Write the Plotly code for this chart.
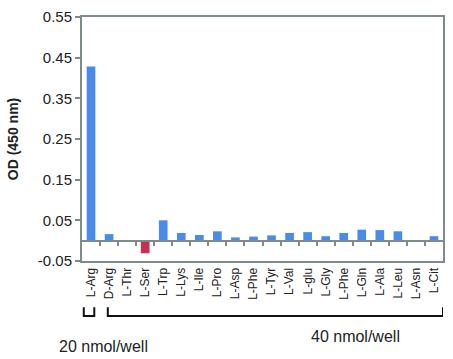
import plotly.graph_objects as go

categories = ["L-Arg", "D-Arg", "L-Thr", "L-Ser", "L-Trp", "L-Lys", "L-Ile", "L-Pro",
              "L-Asp", "L-Phe", "L-Tyr", "L-Val", "L-glu", "L-Gly", "L-Phe", "L-Gln",
              "L-Ala", "L-Leu", "L-Asn", "L-Cit"]
od_values = [0.428, 0.016, 0.0, -0.031, 0.050, 0.019, 0.014, 0.023, 0.008, 0.010,
             0.013, 0.019, 0.021, 0.011, 0.019, 0.027, 0.026, 0.023, 0.0, 0.011]
y_tick_values = [-0.05, 0.05, 0.15, 0.25, 0.35, 0.45, 0.55]
y_tick_labels = ["-0.05", "0.05", "0.15", "0.25", "0.35", "0.45", "0.55"]

BLUE = "#4a8bea"
RED = "#c9304f"
GRAY = "#7d8b8c"
FONT = "Liberation Sans, Arial, sans-serif"

idx = list(range(len(categories)))
colors = [RED if v < 0 else BLUE for v in od_values]
boundaries = [i + 0.5 for i in idx[:-1]]

fig = go.Figure()
fig.add_trace(go.Bar(x=idx, y=od_values, marker=dict(color=colors, line=dict(width=0)),
                     width=0.48, showlegend=False, hoverinfo="skip"))
# invisible trace for the zero-line axis
fig.add_trace(go.Scatter(x=[idx[0], idx[-1]], y=[0, 0], xaxis="x2", mode="lines",
                         line=dict(color="rgba(0,0,0,0)"), showlegend=False, hoverinfo="skip"))

xr = [-0.5, len(categories) - 0.5]
yr = [-0.05, 0.55]

fig.update_layout(
    width=453, height=359,
    margin=dict(l=82, r=8, t=17, b=98),
    paper_bgcolor="white", plot_bgcolor="white",
    font=dict(family=FONT, color="#222"),
    bargap=0.5,
    xaxis=dict(range=xr, tickmode="array", tickvals=idx, ticktext=categories,
               tickangle=-90, tickfont=dict(size=12, color="#222"),
               showline=True, linecolor=GRAY, linewidth=2, mirror=True,
               ticks="", showgrid=False, zeroline=False),
    xaxis2=dict(range=xr, overlaying="x", anchor="free",
                position=(0 - yr[0]) / (yr[1] - yr[0]), side="bottom",
                tickmode="array", tickvals=boundaries, showticklabels=False,
                ticks="outside", ticklen=4, tickwidth=2, tickcolor=GRAY,
                showline=True, linecolor=GRAY, linewidth=2, showgrid=False, zeroline=False),
    yaxis=dict(range=yr, tickmode="array", tickvals=y_tick_values, ticktext=y_tick_labels,
               tickfont=dict(size=15, color="#222"), ticks="outside", ticklen=5,
               tickwidth=2, tickcolor=GRAY,
               showline=True, linecolor=GRAY, linewidth=2, mirror=True,
               showgrid=False, zeroline=False,
               title=dict(text="<b>OD (450 nm)</b>", font=dict(size=14, color="#222"), standoff=16)),
)

# brackets below the tick labels
def bracket(x0, x1, y0, y1):
    return dict(type="path", xref="x", yref="paper",
                path=f"M {x0} {y0} L {x0} {y1} L {x1} {y1} L {x1} {y0}",
                line=dict(color="#111", width=2))

fig.add_shape(bracket(-0.40, 0.18, -0.19, -0.225))
fig.add_shape(bracket(0.93, 19.5, -0.19, -0.225))

fig.add_annotation(text="20 nmol/well", xref="paper", yref="paper", x=-0.07, y=-0.35,
                   xanchor="left", yanchor="middle", showarrow=False,
                   font=dict(size=16, color="#222", family=FONT))
fig.add_annotation(text="40 nmol/well", xref="paper", yref="paper", x=0.63, y=-0.31,
                   xanchor="left", yanchor="middle", showarrow=False,
                   font=dict(size=16, color="#222", family=FONT))

fig.write_html("out.html", config={"displayModeBar": False},
               post_script="document.body.style.margin='0';document.body.style.overflow='hidden';")
